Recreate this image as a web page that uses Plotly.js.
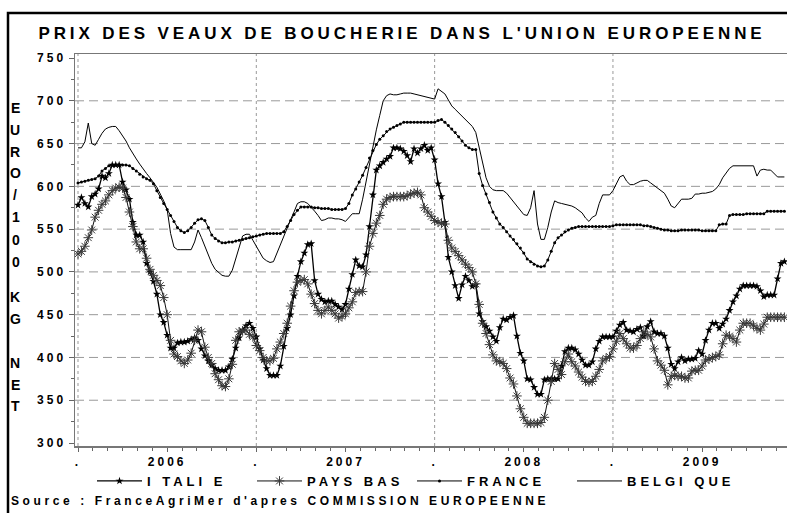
<!DOCTYPE html>
<html><head><meta charset="utf-8">
<script src="https://cdn.plot.ly/plotly-3.0.1.min.js"></script>
<style>
html,body{margin:0;padding:0;background:#fff;}
#chart{width:787px;height:513px;}
.gtitle{letter-spacing:3.9px;}
.xtick text, .ytick text{letter-spacing:3px;}
.legendtext{letter-spacing:4px;}
.annotation-text{letter-spacing:3.6px;}
</style></head><body><div id="chart"></div>
<script>
// Weekly prices, EUR / 100 kg net, first week of 2006 onward
const italie = [
578, 587, 580, 576, 588, 591, 597, 612, 610,
615, 625, 625, 625, 605, 596, 585, 558, 543, 543,
535, 510, 500, 489, 474, 450, 441, 426, 411, 411,
417, 418, 418, 419, 421, 423, 420, 410, 402, 396,
391, 387, 385, 385, 385, 389, 398, 411, 423, 432,
437, 440, 434, 424, 410, 397, 387, 379, 379, 379,
390, 413, 434, 450, 472, 495, 512, 522, 532, 533,
490, 474, 468, 465, 466, 466, 462, 459, 456, 462,
480, 497, 514, 507, 506, 520, 553, 590, 619, 624,
628, 632, 635, 645, 645, 644, 641, 636, 629, 644,
639, 644, 648, 642, 645, 631, 603, 588, 558, 517,
500, 484, 469, 485, 495, 490, 483, 485, 451, 442,
436, 431, 424, 419, 435, 445, 444, 447, 449, 425,
405, 396, 375, 374, 365, 357, 357, 374, 375, 375,
375, 375, 390, 407, 411, 411, 409, 404, 397, 391,
391, 395, 410, 419, 424, 424, 424, 424, 431, 438,
441, 432, 431, 430, 433, 435, 425, 436, 442, 430,
428, 428, 425, 411, 392, 387, 395, 400, 396, 398,
398, 399, 408, 404, 420, 432, 440, 440, 434, 439,
445, 455, 465, 472, 480, 484, 484, 484, 484, 483,
478, 471, 473, 473, 473, 492, 510, 512];

const paysBas = [
521, 524, 530, 540, 549, 564, 572, 579, 583,
590, 595, 598, 599, 598, 587, 570, 553, 535, 527,
527, 516, 503, 496, 490, 484, 470, 450, 420, 404,
401, 396, 393, 397, 405, 420, 432, 430, 412, 400,
393, 381, 374, 367, 366, 375, 392, 420, 430, 431,
432, 427, 424, 414, 408, 400, 396, 396, 399, 410,
418, 428, 440, 460, 478, 488, 490, 491, 486, 474,
463, 455, 451, 455, 459, 455, 451, 446, 448, 451,
458, 465, 476, 477, 477, 500, 530, 545, 557, 566,
579, 585, 587, 588, 588, 588, 588, 589, 591, 592,
593, 590, 575, 570, 565, 560, 558, 557, 556, 537,
528, 524, 519, 514, 509, 505, 500, 486, 462, 440,
428, 415, 403, 396, 395, 393, 387, 376, 369, 355,
340, 330, 323, 323, 323, 323, 324, 330, 350, 372,
393, 386, 380, 395, 404, 395, 390, 383, 377, 372,
371, 372, 378, 386, 396, 399, 401, 410, 419, 428,
422, 416, 411, 411, 414, 422, 430, 427, 424, 410,
396, 391, 385, 368, 378, 379, 378, 378, 376, 376,
384, 385, 385, 390, 397, 398, 400, 401, 403, 416,
426, 425, 422, 418, 432, 440, 440, 440, 437, 434,
432, 439, 447, 447, 447, 447, 447, 447];

const france = [
604, 605, 606, 607, 608, 609, 612, 618, 621,
624, 625, 625, 625, 625, 625, 624, 621, 618, 614,
611, 609, 607, 603, 595, 587, 580, 573, 566, 559,
552, 548, 546, 548, 552, 557, 561, 562, 560, 552,
543, 539, 536, 534, 534, 535, 535, 536, 537, 538,
539, 540, 541, 542, 543, 544, 545, 545, 545, 545,
545, 547, 553, 560, 567, 572, 576, 576, 576, 576,
575, 575, 574, 574, 574, 573, 573, 573, 573, 574,
580, 590, 597, 605, 613, 622, 633, 642, 649, 655,
659, 664, 667, 669, 671, 673, 675, 675, 675, 675,
675, 675, 675, 675, 675, 675, 677, 678, 675, 671,
667, 663, 658, 653, 648, 645, 643, 643, 615, 601,
591, 581, 570, 563, 556, 552, 547, 542, 538, 533,
528, 522, 515, 512, 509, 507, 506, 507, 514, 524,
534, 540, 543, 547, 549, 551, 552, 553, 553, 553,
553, 553, 553, 553, 553, 553, 553, 554, 555, 555,
555, 555, 555, 555, 555, 555, 554, 554, 553, 552,
551, 550, 549, 549, 548, 548, 548, 549, 549, 549,
549, 549, 549, 548, 548, 548, 548, 548, 555, 556,
556, 566, 567, 567, 567, 567, 568, 568, 568, 568,
568, 568, 571, 571, 571, 571, 571, 571];

const belgique = [
645, 645, 652, 674, 650, 648, 655, 662, 667,
669, 670, 670, 665, 659, 653, 645, 638, 632, 626,
620, 615, 610, 604, 599, 591, 583, 573, 545, 529,
526, 526, 526, 526, 526, 535, 549, 540, 530, 519,
510, 503, 499, 496, 495, 495, 502, 516, 530, 542,
544, 544, 537, 530, 523, 516, 513, 511, 512, 522,
533, 542, 551, 561, 570, 580, 582, 582, 580, 576,
571, 566, 560, 561, 563, 563, 562, 562, 561, 559,
563, 568, 568, 568, 585, 605, 628, 649, 666, 683,
700, 706, 708, 707, 707, 708, 709, 709, 709, 708,
707, 706, 705, 704, 703, 702, 714, 711, 708, 701,
694, 690, 686, 682, 679, 674, 670, 663, 645, 628,
610, 600, 596, 595, 595, 595, 592, 587, 582, 577,
572, 567, 566, 575, 595, 556, 538, 538, 552, 570,
583, 581, 580, 579, 578, 577, 575, 572, 569, 563,
559, 564, 566, 580, 590, 590, 590, 595, 603, 611,
613, 606, 602, 602, 604, 606, 607, 607, 604, 601,
598, 595, 592, 585, 577, 575, 580, 585, 585, 585,
586, 591, 591, 592, 592, 593, 594, 597, 602, 610,
616, 621, 624, 624, 624, 624, 624, 624, 624, 612,
619, 620, 619, 619, 615, 611, 611, 611];

const seriesNames = ['I TALI E', 'PAYS BAS', 'FRANCE', 'BELGI QUE'];
const xTickVals = [0, 26, 52, 78, 104, 130, 156, 182];
const xTickText = ['.', '2006', '.', '2007', '.', '2008', '.', '2009'];
const yearBounds = [0, 52, 104, 156];
const yGridVals = [350, 400, 450, 500, 550, 600, 650, 700];
const yTitleChars = ['E','U','R','O','/','1','0','0','K','G','N','E','T'];
const yTitleRows = [108, 130, 152, 173, 195, 217, 240, 262, 297, 319, 363, 385, 406];
const titleText = "PRIX DES VEAUX DE BOUCHERIE DANS L'UNION EUROPEENNE";
const sourceText = "Source : FranceAgriMer d'apres COMMISSION EUROPEENNE";

const weeks = italie.map((_, i) => i);
const FONT = 'Liberation Sans, Arial, sans-serif';

const traces = [
  {x: weeks, y: italie, name: seriesNames[0], mode: 'lines+markers', type: 'scatter',
   line: {color: '#000', width: 1.3}, marker: {symbol: 'star', size: 6, color: '#000'}},
  {x: weeks, y: paysBas, name: seriesNames[1], mode: 'lines+markers', type: 'scatter',
   line: {color: '#111', width: 1}, marker: {symbol: 'asterisk-open', size: 8, color: '#3a3a3a', line: {color: '#3a3a3a', width: 1}}},
  {x: weeks, y: france, name: seriesNames[2], mode: 'lines+markers', type: 'scatter',
   line: {color: '#000', width: 1}, marker: {symbol: 'circle', size: 3, color: '#000'}},
  {x: weeks, y: belgique, name: seriesNames[3], mode: 'lines', type: 'scatter',
   line: {color: '#000', width: 1}}
];

const T = 54, B = 446, H = B - T;
const pyToPaper = py => (B - py) / H;
const pxToPaper = px => (px - 75) / 712;

const shapes = [];
yearBounds.forEach(v => shapes.push({type: 'line', xref: 'x', yref: 'paper', x0: v, x1: v, y0: 0, y1: 1,
  line: {color: '#999', width: 1, dash: 'dot'}, layer: 'below'}));
yGridVals.forEach(v => shapes.push({type: 'line', xref: 'paper', yref: 'y', x0: 0, x1: 1, y0: v, y1: v,
  line: {color: '#999', width: 1, dash: '9px,5px'}, layer: 'below'}));
shapes.push({type: 'rect', xref: 'paper', yref: 'paper', x0: pxToPaper(8), x1: 1.2, y0: -0.5, y1: pyToPaper(13),
  line: {color: '#000', width: 2.5}, fillcolor: 'rgba(0,0,0,0)'});

const annotations = [];
yTitleChars.forEach((c, i) => {
  annotations.push({text: c, xref: 'paper', yref: 'paper', x: pxToPaper(17), y: pyToPaper(yTitleRows[i]),
    xanchor: 'center', yanchor: 'middle', showarrow: false, font: {family: FONT, size: 14, weight: 'bold', color: '#000'}});
});
annotations.push({text: sourceText, xref: 'paper', yref: 'paper', x: pxToPaper(9), y: pyToPaper(501),
  xanchor: 'left', yanchor: 'middle', showarrow: false, font: {family: FONT, size: 12, weight: 'bold', color: '#000'}});

const layout = {
  width: 787, height: 513,
  margin: {l: 75, r: 0, t: T, b: 513 - B},
  paper_bgcolor: '#fff', plot_bgcolor: '#fff',
  font: {family: FONT, color: '#000'},
  title: {text: titleText, xref: 'container', yref: 'container', x: 402 / 787, y: 1 - 33 / 513,
    xanchor: 'center', yanchor: 'middle', font: {family: FONT, size: 17, weight: 'bold', color: '#000'}},
  showlegend: true,
  legend: {orientation: 'h', x: pxToPaper(92), y: pyToPaper(481), xanchor: 'left', yanchor: 'middle',
    font: {family: FONT, size: 13, weight: 'bold', color: '#000'}, itemwidth: 45, entrywidth: 100, entrywidthmode: 'pixels',
    bgcolor: 'rgba(0,0,0,0)', traceorder: 'normal'},
  xaxis: {range: [-0.875, 206.76], tickmode: 'array', tickvals: xTickVals, ticktext: xTickText,
    showgrid: false, zeroline: false, showline: true, linecolor: '#777', linewidth: 1.5, mirror: true,
    ticks: 'outside', ticklen: 4, tickcolor: '#666', tickwidth: 1,
    tickfont: {family: FONT, size: 12, weight: 'bold', color: '#000'},
    minor: {tickmode: 'linear', tick0: 0, dtick: 52 / 12, ticks: 'outside', ticklen: 3, tickcolor: '#666', showgrid: false}},
  yaxis: {range: [296.5, 754.7], tickmode: 'linear', tick0: 300, dtick: 50,
    showgrid: false, zeroline: false, showline: true, linecolor: '#777', linewidth: 1.5,
    ticks: 'outside', ticklen: 5, tickcolor: '#666', tickwidth: 1,
    tickfont: {family: FONT, size: 12, weight: 'bold', color: '#000'},
    minor: {tickmode: 'linear', tick0: 300, dtick: 25, ticks: 'outside', ticklen: 3, tickcolor: '#666', showgrid: false}},
  shapes: shapes,
  annotations: annotations
};

Plotly.newPlot('chart', traces, layout, {displayModeBar: false, staticPlot: true});
</script></body></html>
